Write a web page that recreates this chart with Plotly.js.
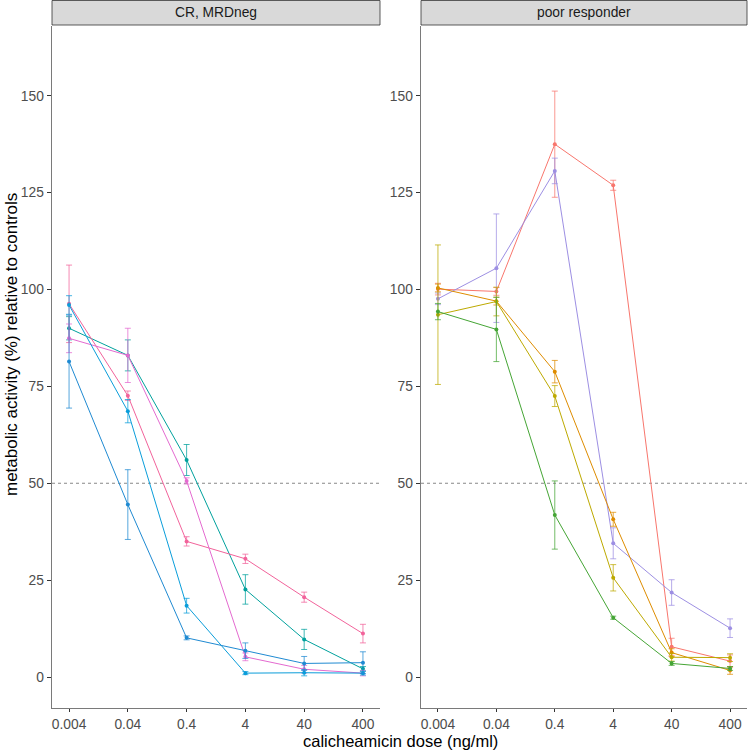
<!DOCTYPE html>
<html>
<head>
<meta charset="utf-8">
<script src="https://cdn.plot.ly/plotly-3.0.1.min.js"></script>
<style>
  html, body { margin: 0; padding: 0; background: #fff; }
  #chart { width: 750px; height: 750px; }
</style>
</head>
<body>
<div id="chart"></div>
<script>
// doses on the x axis (ng/ml)
const doses = [0.004, 0.04, 0.4, 4, 40, 400];
const doseLabels = ["0.004", "0.04", "0.4", "4", "40", "400"];
const panelNames = ["CR, MRDneg", "poor responder"];

// CR, MRDneg group: mean and error half-widths
const crTeal = [90.0, 83.0, 56.0, 22.6, 9.7, 2.1];
const crTealErr = [3.0, 4.0, 4.0, 3.8, 2.6, 0.6];
const crRose = [96.3, 72.6, 35.0, 30.5, 20.6, 11.2];
const crRoseErr = [10.0, 1.2, 1.2, 1.2, 1.3, 2.4];
const crMagenta = [87.4, 83.0, 50.6, 5.2, 2.0, 1.0];
const crMagentaErr = [3.7, 7.0, 0.8, 1.0, 1.0, 0.7];
const crBlueA = [96.0, 68.6, 18.4, 1.0, 1.1, 1.0];
const crBlueAErr = [2.4, 3.0, 1.9, 0.4, 0.8, 0.5];
const crBlueB = [81.4, 44.5, 10.1, 6.8, 3.5, 3.7];
const crBlueBErr = [12.0, 9.0, 0.5, 2.0, 1.8, 2.8];

// poor responder group
const prRed = [100.1, 99.5, 137.5, 126.9, 7.8, 4.1];
const prRedErr = [1.5, 1.0, 13.7, 1.3, 2.2, 1.6];
const prPurple = [97.6, 105.5, 130.6, 34.5, 21.8, 12.6];
const prPurpleErr = [1.5, 14.0, 3.3, 4.0, 3.3, 2.4];
const prOrange = [100.4, 97.0, 78.8, 40.7, 6.3, 1.7];
const prOrangeErr = [1.0, 1.0, 2.9, 1.8, 1.0, 1.0];
const prOlive = [93.5, 96.9, 72.5, 25.6, 5.1, 5.0];
const prOliveErr = [18.0, 3.7, 2.7, 3.4, 1.0, 1.0];
const prGreen = [94.3, 89.7, 41.8, 15.3, 3.5, 2.2];
const prGreenErr = [2.1, 8.3, 8.8, 0.4, 0.5, 0.5];

const W = 750, H = 750;
const panelTop = 26, panelBottom = 708;
const panels = [{ x0: 52, x1: 380 }, { x0: 421, x1: 747 }];
const fontFamily = "Liberation Sans, Arial, sans-serif";

function rgba(hex, a) {
  const n = parseInt(hex.slice(1), 16);
  return `rgba(${(n >> 16) & 255},${(n >> 8) & 255},${n & 255},${a})`;
}

function series(y, err, color, axis) {
  return {
    type: "scatter",
    mode: "lines+markers",
    x: doses,
    y: y,
    xaxis: axis === 1 ? "x" : "x2",
    yaxis: axis === 1 ? "y" : "y2",
    line: { color: color, width: 1 },
    marker: { color: color, size: 4 },
    error_y: { type: "data", array: err, visible: true, color: rgba(color, 0.75), thickness: 1, width: 3 },
    hoverinfo: "skip",
    showlegend: false
  };
}

const traces = [
  series(crTeal, crTealErr, "#00A19D", 1),
  series(crRose, crRoseErr, "#F2639B", 1),
  series(crMagenta, crMagentaErr, "#E46AD0", 1),
  series(crBlueA, crBlueAErr, "#0A9DDA", 1),
  series(crBlueB, crBlueBErr, "#1F8AD2", 1),
  series(prRed, prRedErr, "#F8766D", 2),
  series(prPurple, prPurpleErr, "#9D8FE3", 2),
  series(prOrange, prOrangeErr, "#DE8C00", 2),
  series(prOlive, prOliveErr, "#BDA900", 2),
  series(prGreen, prGreenErr, "#45A535", 2)
];

const xRange = [Math.log10(0.004) - 0.29, Math.log10(400) + 0.29];
const tickFont = { family: fontFamily, size: 13.8, color: "#4D4D4D" };

function xAxis(p) {
  return {
    domain: [p.x0 / W, p.x1 / W],
    type: "log",
    range: xRange,
    tickvals: doses,
    ticktext: doseLabels,
    ticks: "outside", ticklen: 3, tickcolor: "#333", tickwidth: 1,
    showline: true, linecolor: "#7A7A7A", linewidth: 1.4,
    showgrid: false, zeroline: false,
    tickfont: tickFont
  };
}
function yAxis() {
  return {
    domain: [1 - panelBottom / H, 1 - panelTop / H],
    range: [-8, 168],
    tickvals: [0, 25, 50, 75, 100, 125, 150],
    ticks: "outside", ticklen: 4, tickcolor: "#333", tickwidth: 1,
    showline: true, linecolor: "#7A7A7A", linewidth: 1.4,
    showgrid: false, zeroline: false,
    tickfont: tickFont
  };
}

const shapes = [];
const annotations = [];
panels.forEach((p, i) => {
  // facet strip
  shapes.push({
    type: "rect", xref: "paper", yref: "paper",
    x0: p.x0 / W, x1: p.x1 / W, y0: 1 - 25 / H, y1: 1 - 0.5 / H,
    fillcolor: "#D9D9D9", line: { color: "#333", width: 0.8 }, layer: "below"
  });
  annotations.push({
    xref: "paper", yref: "paper", x: (p.x0 + p.x1) / 2 / W, y: 1 - 13 / H,
    text: panelNames[i], showarrow: false, xanchor: "center", yanchor: "middle",
    font: { family: fontFamily, size: 13.8, color: "#1A1A1A" }
  });
  // 50% reference line
  shapes.push({
    type: "line", xref: i === 0 ? "x domain" : "x2 domain", yref: i === 0 ? "y" : "y2",
    x0: 0, x1: 1, y0: 50, y1: 50,
    line: { color: "#555", width: 0.7, dash: "dot" }, layer: "below"
  });
});

annotations.push({
  xref: "paper", yref: "paper", x: 400 / W, y: 1 - 741 / H,
  text: "calicheamicin dose (ng/ml)", showarrow: false, xanchor: "center", yanchor: "middle",
  font: { family: fontFamily, size: 16.5, color: "#000" }
});
annotations.push({
  xref: "paper", yref: "paper", x: 11 / W, y: 1 - 345 / H, textangle: -90,
  text: "metabolic activity (%) relative to controls", showarrow: false,
  xanchor: "center", yanchor: "middle",
  font: { family: fontFamily, size: 17, color: "#000" }
});

const layout = {
  width: W, height: H,
  margin: { l: 0, r: 0, t: 0, b: 0 },
  paper_bgcolor: "#fff", plot_bgcolor: "#fff",
  xaxis: xAxis(panels[0]),
  xaxis2: Object.assign(xAxis(panels[1]), { anchor: "y2" }),
  yaxis: yAxis(),
  yaxis2: Object.assign(yAxis(), { anchor: "x2" }),
  shapes: shapes,
  annotations: annotations,
  showlegend: false
};
layout.xaxis.anchor = "y";
layout.yaxis.anchor = "x";

Plotly.newPlot("chart", traces, layout, { displayModeBar: false, staticPlot: true });
</script>
</body>
</html>
